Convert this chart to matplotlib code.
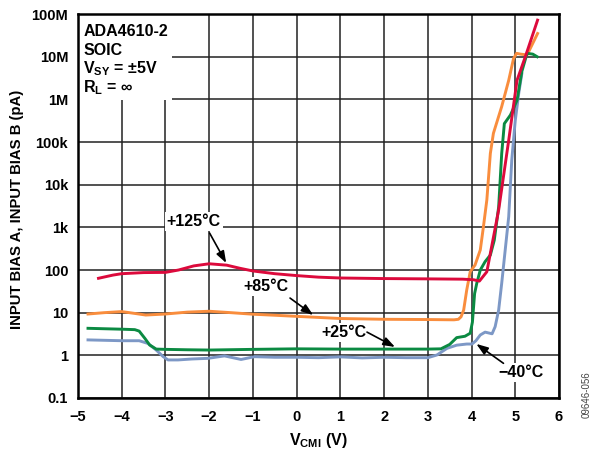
import numpy as np
import matplotlib
matplotlib.use("Agg")
import matplotlib.pyplot as plt
from matplotlib.patches import Rectangle

plt.rcParams['font.family'] = ['Liberation Sans', 'DejaVu Sans']
plt.rcParams['font.weight'] = 'bold'
plt.rcParams['mathtext.fontset'] = 'custom'
plt.rcParams['mathtext.rm'] = 'Liberation Sans:bold'
plt.rcParams['mathtext.bf'] = 'Liberation Sans:bold'

# V_CMI (V) vs bias current (pA)
red_x = [-4.53, -4.2, -4.0, -3.5, -3.0, -2.7, -2.35, -2.0, -1.6, -1.3, -1.0, -0.5, 0.0, 0.5, 1.0,
         2.0, 3.0, 3.8, 4.05, 4.18, 4.35, 4.43, 4.62, 4.85, 5.04, 5.23, 5.51]
red_y = [64, 76, 82, 87, 88, 100, 125, 140, 130, 110, 95, 82, 74, 68, 65,
         63, 62, 61, 59, 55, 91, 245, 2550, 1.1e5, 2.8e6, 1e7, 7.2e7]

orange_x = [-4.77, -4.4, -4.0, -3.7, -3.45, -3.0, -2.5, -2.0, -1.5, -1.0, -0.5, 0.0, 1.0, 2.0, 3.0,
            3.6, 3.7, 3.76, 3.82, 3.89, 3.97, 4.08, 4.20, 4.27, 4.35, 4.43, 4.50, 4.69, 4.85,
            4.96, 5.03, 5.12, 5.27, 5.51]
orange_y = [9.3, 10, 10.6, 9.6, 8.8, 9.3, 10.3, 10.8, 10.0, 9.2, 8.7, 8.2, 7.3, 7.0, 6.9,
            6.8, 7.0, 8, 11.5, 34, 91, 131, 295, 1000, 4400, 5.4e4, 1.6e5, 6.8e5, 2.8e6,
            9e6, 1.2e7, 1.15e7, 1.1e7, 3.5e7]

green_x = [-4.77, -4.4, -4.0, -3.7, -3.6, -3.47, -3.36, -3.21, -3.0, -2.5, -2.0, -1.0, 0.0, 1.0, 2.0,
           3.0, 3.3, 3.5, 3.66, 3.85, 3.97, 4.02, 4.07, 4.12, 4.20, 4.31, 4.43, 4.52, 4.62, 4.69,
           4.75, 4.89, 5.04, 5.15, 5.27, 5.40, 5.50]
green_y = [4.3, 4.2, 4.1, 4.0, 3.7, 2.5, 1.75, 1.4, 1.38, 1.35, 1.33, 1.38, 1.42, 1.4, 1.4,
           1.4, 1.42, 1.8, 2.6, 2.8, 3.3, 6, 28, 49, 100, 157, 224, 500, 3000, 5.4e4,
           2.7e5, 4.3e5, 9.5e5, 4.5e6, 1.2e7, 1.15e7, 1.0e7]

blue_x = [-4.77, -4.0, -3.6, -3.4, -3.21, -3.05, -2.94, -2.71, -2.4, -2.03, -1.65, -1.27, -0.96, -0.5,
          0.0, 0.5, 1.0, 1.5, 2.0, 2.5, 3.0, 3.21, 3.44, 3.66, 3.89, 4.01, 4.10, 4.20, 4.31, 4.47,
          4.54, 4.62, 4.69, 4.77, 4.85, 4.92, 5.0, 5.08, 5.15]
blue_y = [2.3, 2.2, 2.2, 1.9, 1.33, 0.93, 0.78, 0.78, 0.82, 0.85, 0.97, 0.8, 0.93, 0.9,
          0.9, 0.88, 0.92, 0.87, 0.9, 0.88, 0.88, 1.02, 1.46, 1.73, 1.84, 1.84, 2.2, 3.0, 3.5, 3.2,
          4.7, 11.5, 49, 295, 1780, 3.8e4, 3.2e5, 1.4e6, 4e6]

x_ticks = [-5, -4, -3, -2, -1, 0, 1, 2, 3, 4, 5, 6]
x_labels = ['\u22125', '\u22124', '\u22123', '\u22122', '\u22121', '0', '1', '2', '3', '4', '5', '6']
y_ticks = [0.1, 1, 10, 100, 1e3, 1e4, 1e5, 1e6, 1e7, 1e8]
y_labels = ['0.1', '1', '10', '100', '1k', '10k', '100k', '1M', '10M', '100M']

fig = plt.figure(figsize=(5.95, 4.55), dpi=100)
ax = fig.add_axes([0.131, 0.1253, 0.8085, 0.8438])

lw = 2.1
ax.plot(blue_x, blue_y, color='#7d98c6', lw=lw, zorder=2)
ax.plot(green_x, green_y, color='#0b8a42', lw=lw, zorder=3)
ax.plot(orange_x, orange_y, color='#f98d3d', lw=lw, zorder=2.5)
ax.plot(red_x, red_y, color='#dc0a3c', lw=lw, zorder=4)

ax.set_yscale('log')
ax.set_xlim(-5, 6)
ax.set_ylim(0.1, 1e8)
ax.set_xticks(x_ticks)
ax.set_xticklabels(x_labels)
ax.set_yticks(y_ticks)
ax.set_yticklabels(y_labels)
ax.yaxis.set_minor_locator(matplotlib.ticker.NullLocator())
ax.tick_params(axis='both', length=0, labelsize=10.5)
ax.tick_params(axis='x', pad=9)
ax.tick_params(axis='y', pad=7)
ax.set_axisbelow(True)
ax.grid(True, color='#222222', lw=1.1)
for s in ax.spines.values():
    s.set_linewidth(1.8)
    s.set_color('black')

ax.set_xlabel(r'$\mathbf{V_{CMI}}$ (V)', fontsize=11.5, fontweight='bold', labelpad=5)
ax.set_ylabel('INPUT BIAS A, INPUT BIAS B (pA)', fontsize=10.7, fontweight='bold', labelpad=5)
ax.yaxis.set_label_coords(-0.112, 0.49)

# white box behind the conditions text
ax.add_patch(Rectangle((0, 0.776), 0.195, 0.224, transform=ax.transAxes,
                       facecolor='white', edgecolor='none', zorder=1))
info = ['ADA4610-2', 'SOIC', r'$\mathbf{V_{SY}}$ = ' + '\u00b15V', r'$\mathbf{R_L}$ = ' + '\u221e']
base_px = [36, 55, 73, 92]
for t, py in zip(info, base_px):
    ax.text(0.011, (398 - py) / 384, t, transform=ax.transAxes, fontsize=11.5,
            fontweight='bold', va='baseline', ha='left', zorder=5)

box = dict(facecolor='white', edgecolor='none', pad=1.5)
arrow = dict(arrowstyle='-|>,head_length=0.7,head_width=0.25', color='black', lw=1.2,
             shrinkA=0, shrinkB=0)
fs = 11.5

ax.text(-2.35, 1400, '+125\u00b0C', fontsize=fs, fontweight='bold', ha='center', va='center', bbox=box, zorder=5)
ax.annotate('', xy=(-1.61, 146), xytext=(-1.99, 736), arrowprops=arrow, zorder=6)

ax.text(-0.70, 42, '+85\u00b0C', fontsize=fs, fontweight='bold', ha='center', va='center', bbox=box, zorder=5)
ax.annotate('', xy=(0.38, 8.8), xytext=(-0.15, 22), arrowprops=arrow, zorder=6)

ax.text(1.08, 3.4, '+25\u00b0C', fontsize=fs, fontweight='bold', ha='center', va='center', bbox=box, zorder=5)
ax.annotate('', xy=(2.25, 1.57), xytext=(1.61, 3.5), arrowprops=arrow, zorder=6)

ax.text(5.14, 0.39, '\u221240\u00b0C', fontsize=fs, fontweight='bold', ha='center', va='center', bbox=box, zorder=5)
ax.annotate('', xy=(4.11, 1.85), xytext=(4.73, 0.65), arrowprops=arrow, zorder=6)

fig.text(0.986, 0.132, '09646-056', rotation=90, fontsize=7, fontweight='normal',
         color='#444444', ha='center', va='center')

fig.savefig('out.png', dpi=100)
